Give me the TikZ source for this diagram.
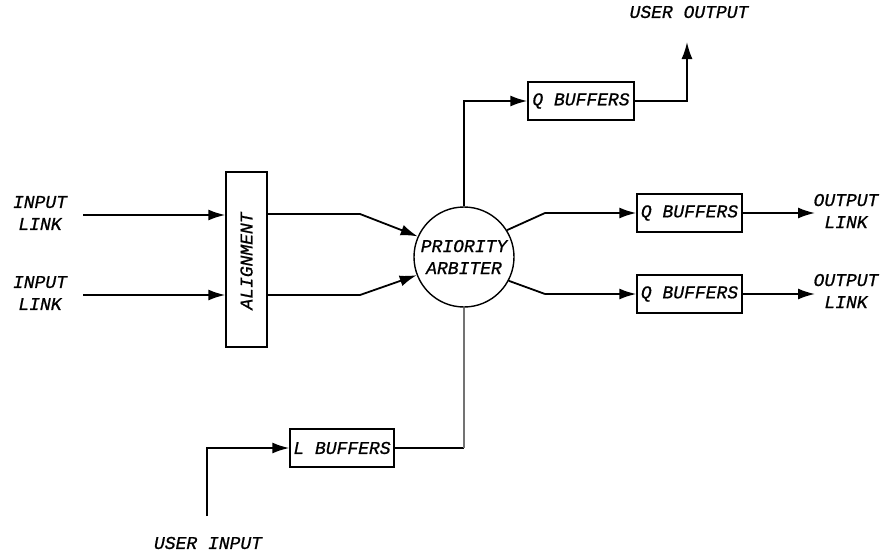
\documentclass[tikz,border=0pt]{standalone}
\usepackage{fontspec}
\newfontfamily\labfont[FakeBold=0.8]{Liberation Mono}
\usetikzlibrary{arrows.meta}
\tikzset{
  lbl/.style={font=\fontsize{18}{22}\selectfont\labfont\itshape, inner sep=0pt, align=center},
  blk/.style={draw, line width=1.4pt, inner sep=0pt, font=\fontsize{18}{22}\selectfont\labfont\itshape},
  wire/.style={line width=1.8pt},
  arr/.style={wire, -{Latex[length=17pt,width=11pt]}},
  faint/.style={line width=1.1pt, black!55}
}
\begin{document}
\begin{tikzpicture}[x=1pt,y=-1pt]
\useasboundingbox (0,0) rectangle (883,554);
% blocks
\node[blk, minimum width=41pt, minimum height=175pt] (align) at (246.5,259.5) {};
\node[lbl, rotate=90] (alignt) at (246.5,261) {ALIGNMENT};
\node[blk, circle, minimum size=100pt, align=center] (arb) at (464,257) {PRIORITY\\ARBITER};
\node[blk, minimum width=106pt, minimum height=38pt] (qtop) at (581,101) {Q BUFFERS};
\node[blk, minimum width=105pt, minimum height=38pt] (qa) at (689.5,213) {Q BUFFERS};
\node[blk, minimum width=105pt, minimum height=38pt] (qb) at (689.5,294) {Q BUFFERS};
\node[blk, minimum width=104pt, minimum height=38pt] (lbuf) at (342,448) {L BUFFERS};
% labels
\node[lbl] (in1t) at (40,213) {INPUT\\LINK};
\node[lbl] (in2t) at (40,293) {INPUT\\LINK};
\node[lbl] (uot) at (689,12) {USER OUTPUT};
\node[lbl] (oa) at (846,211) {OUTPUT\\LINK};
\node[lbl] (ob) at (846,291) {OUTPUT\\LINK};
\node[lbl] (uit) at (208,543) {USER INPUT};
% free ends and bends
\coordinate (in1) at (83,215);
\coordinate (in2) at (83,295);
\coordinate (b1) at (360,214);
\coordinate (b2) at (360,295);
\coordinate (b3) at (545,213);
\coordinate (b4) at (545,294);
\coordinate (uo) at (687,42);
\coordinate (oae) at (815,213);
\coordinate (obe) at (815,294);
\coordinate (ui) at (207,516);
\coordinate (lc) at (arb.south |- lbuf.east);
% connectors
\draw[arr] (in1) -- (in1 -| align.west);
\draw[arr] (in2) -- (in2 -| align.west);
\draw[arr] (b1 -| align.east) -- (b1) -- (arb.156);
\draw[arr] (b2 -| align.east) -- (b2) -- (arb.201);
\draw[arr] (arb.north) |- (qtop.west);
\draw[arr] (qtop.east) -| (uo);
\draw[wire] (arb.32) -- (b3);
\draw[arr] (b3) -- (qa.west);
\draw[wire] (arb.-28) -- (b4);
\draw[arr] (b4) -- (qb.west);
\draw[arr] (qa.east) -- (oae);
\draw[arr] (qb.east) -- (obe);
\draw[arr] (ui) |- (lbuf.west);
\draw[wire] (lbuf.east) -- (lc);
\draw[faint] (lc) -- (arb.south);
\end{tikzpicture}
\end{document}
